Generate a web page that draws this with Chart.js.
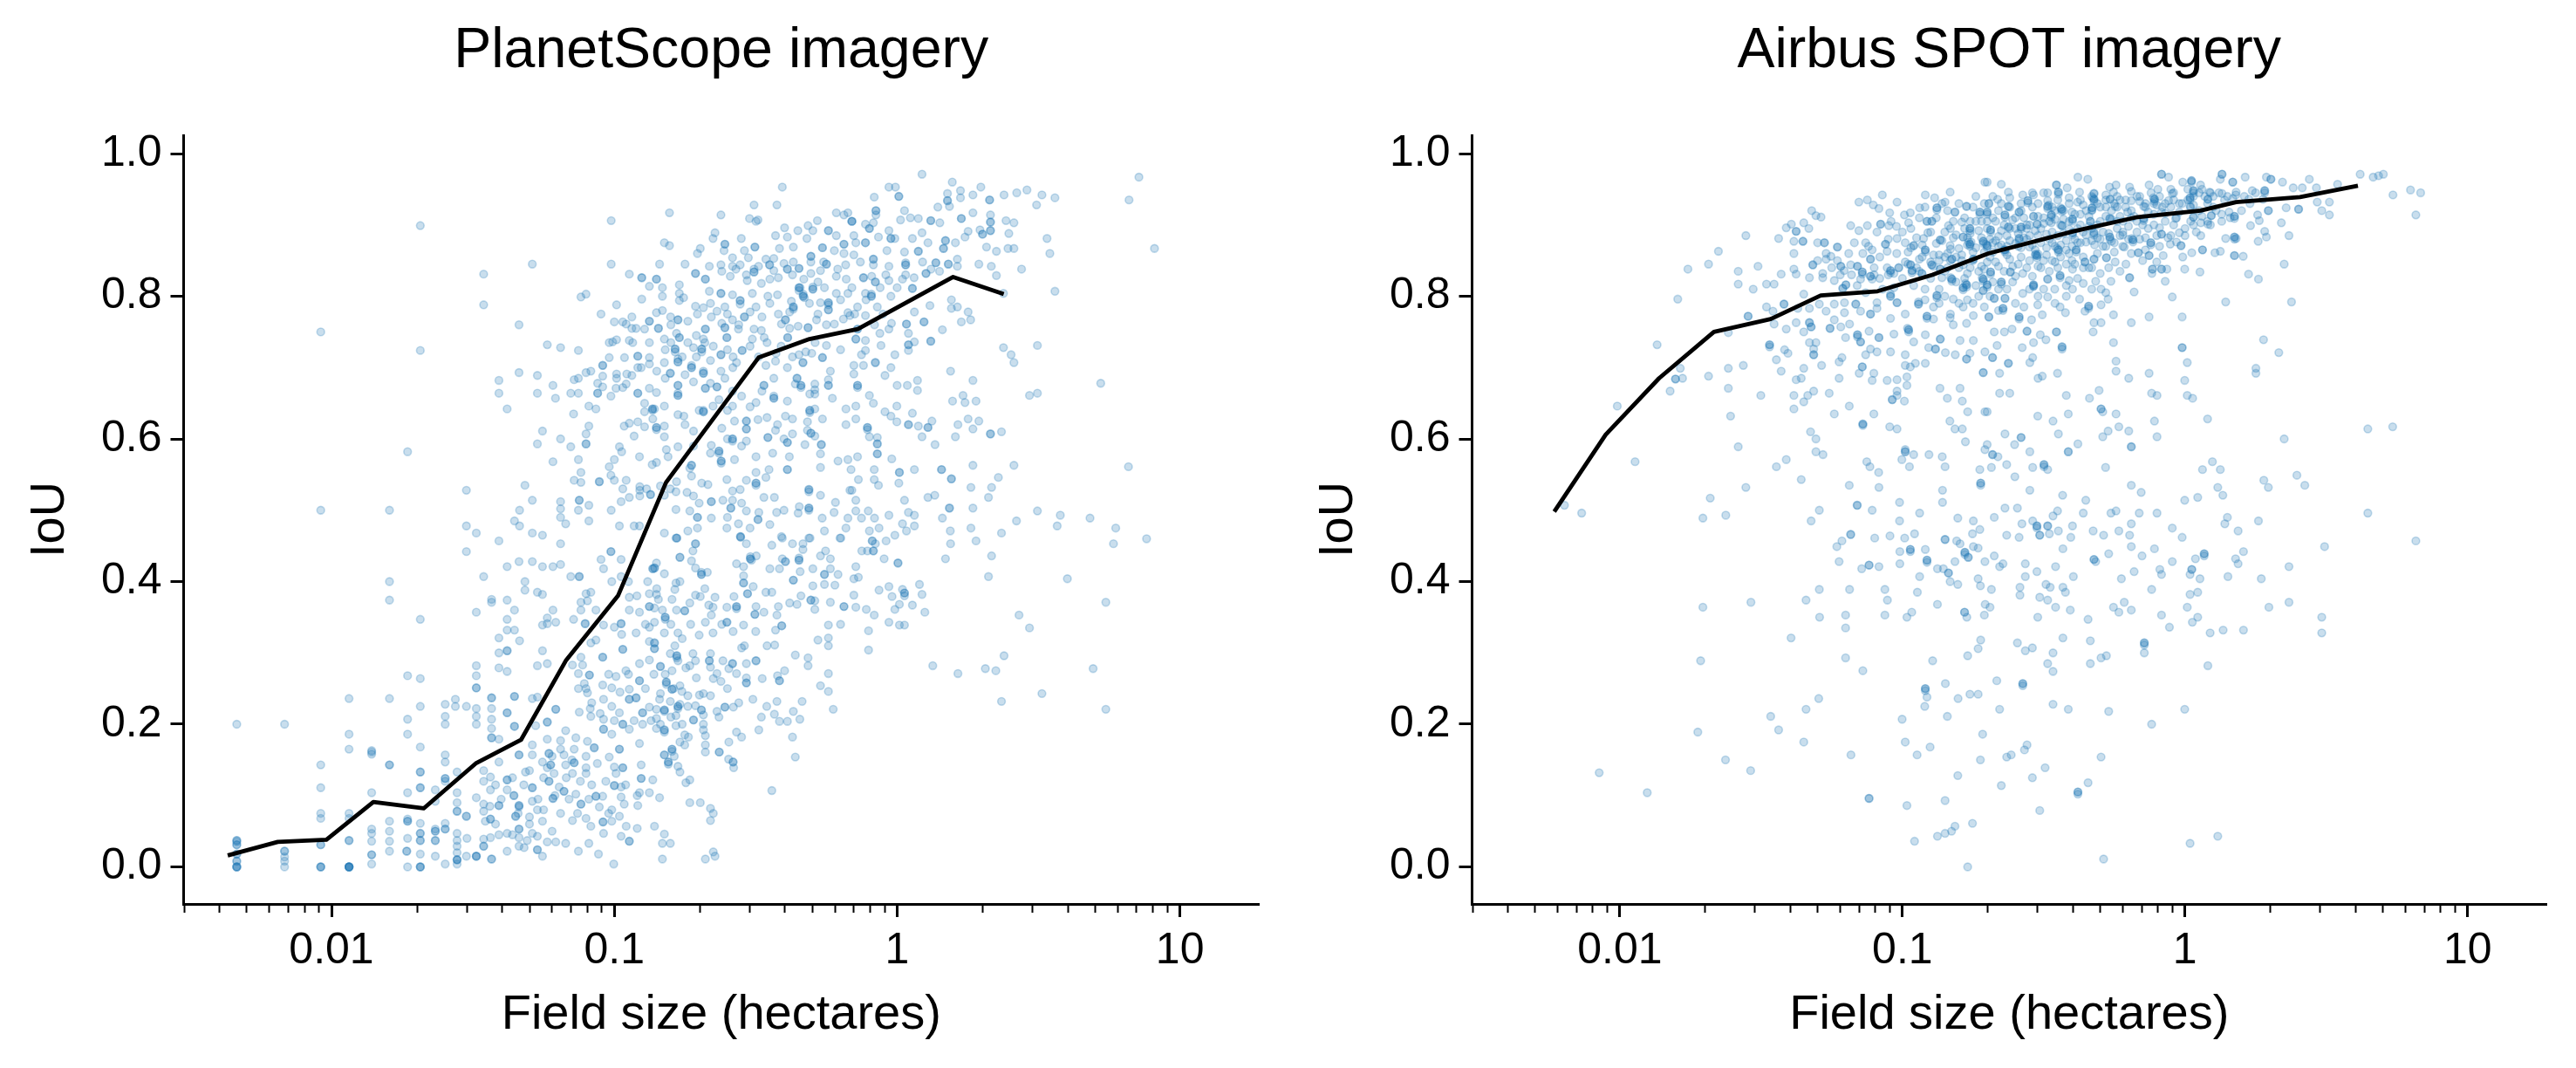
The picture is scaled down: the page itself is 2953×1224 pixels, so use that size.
<!DOCTYPE html>
<html>
<head>
<meta charset="utf-8">
<title>Field size vs IoU</title>
<script src="https://cdn.jsdelivr.net/npm/chart.js@4/dist/chart.umd.min.js"></script>
<style>
  html, body { margin: 0; padding: 0; background: #fff; }
  canvas { position: absolute; top: 0; }
  #planet { left: 0; }
  #airbus { left: 1477px; }
</style>
</head>
<body>
<canvas id="planet" width="1477" height="1224"></canvas>
<canvas id="airbus" width="1476" height="1224"></canvas>
<script>
const titles = ["PlanetScope imagery", "Airbus SPOT imagery"];
const xLabel = "Field size (hectares)";
const yLabel = "IoU";
const xTickValues = [0.01, 0.1, 1, 10];
const xTickLabels = ["0.01", "0.1", "1", "10"];
const xMinorTicks = [0.003, 0.004, 0.005, 0.006, 0.007, 0.008, 0.009, 0.02, 0.03, 0.04, 0.05, 0.06, 0.07, 0.08, 0.09, 0.2, 0.3, 0.4, 0.5, 0.6, 0.7, 0.8, 0.9, 2, 3, 4, 5, 6, 7, 8, 9];
const yTickValues = [0, 0.2, 0.4, 0.6, 0.8, 1];
const xRange = [0.003, 19];
const yRange = [-0.052, 1.0257];

// all points are [log10 hectares, IoU]
const planetLine = [[-2.367,.016],[-2.19,.035],[-2.018,.038],[-1.852,.091],[-1.674,.082],[-1.49,.145],[-1.33,.178],[-1.17,.29],[-.987,.38],[-.817,.539],[-.49,.714],[-.31,.74],[-.139,.754],[.198,.827],[.377,.803]];
const airbusLine = [[-2.232,.498],[-2.05,.606],[-1.861,.685],[-1.667,.75],[-1.466,.768],[-1.289,.801],[-1.088,.807],[-.894,.83],[-.696,.86],[-.395,.891],[-.168,.911],[.055,.92],[.181,.932],[.407,.939],[.612,.955]];

const planetPoints = [
[-1.686,.899],[-1.011,.906],[-1.29,.845],[-1.011,.845],[-1.462,.831],[-.947,.831],[-.903,.826],[-.903,.826],[-.876,.814],[-1.462,.788],[-1.118,.799],[-1.1,.803],[-.903,.796],[-.992,.788],[-1.047,.775],[-1.337,.76],[-2.038,.75],[-1.686,.724],[-1.237,.732],[-1.19,.728],[-1.127,.724],[-1,.764],[-.97,.764],[-.938,.771],[-.958,.761],[-.938,.755],[-.923,.755],[-.893,.754],[-.876,.765],[-.876,.765],
[-1.018,.735],[-1.006,.736],[-.992,.739],[-.947,.738],[-.935,.735],[-.876,.735],[-1.018,.714],[-.964,.714],[-.917,.716],[-.917,.716],[-.876,.714],[-1.041,.703],[-1.041,.703],[-.905,.7],[-.917,.7],[-.876,.705],[-1.337,.693],[-1.272,.689],[-1.408,.682],[-1.142,.683],[-1.127,.685],[-1.1,.693],[-1.083,.695],[-1.041,.688],[-1.059,.678],[-.992,.691],[-.992,.685],[-.956,.691],[-.938,.689],
[-1.217,.675],[-1.041,.673],[-1.408,.664],[-1.272,.664],[-1.154,.664],[-1.127,.664],[-1.059,.664],[-1.059,.664],[-1.012,.66],[-.994,.671],[-.97,.672],[-.958,.677],[-.917,.664],[-.917,.664],[-.876,.671],[-1.208,.657],[-1.379,.642],[-1.09,.646],[-1.065,.642],[-.893,.65],[-.893,.638],[-.858,.642],[-1.144,.635],[-.917,.624],[-.965,.618],[-.947,.622],[-.893,.617],[-1.09,.618],[-.864,.628],
[-1.254,.611],[-1.1,.607],[-.93,.604],[-1.19,.6],[-1.272,.593],[-1.154,.589],[-1.1,.593],[-1.1,.593],[-1.731,.582],[-.982,.589],[-.974,.582],[-1.127,.571],[-.911,.575],[-1,.571],[-1.217,.568],[-.866,.564],[-1.018,.561],[-1.118,.553],[-1.012,.549],[-1,.542],[-1.142,.542],[-1.118,.539],[-1.053,.54],[-1.053,.54],[-.958,.542],[-1.316,.535],[-1.523,.528],[-.97,.53],[-.91,.533],[-.91,.528],[-.886,.53],[-.872,.522],[-.872,.522],[-.947,.518],[-.91,.52],[-.976,.512],
[-1.124,.514],[-1.124,.514],[-1.29,.514],[-2.038,.5],[-1.795,.5],[-1.335,.5],[-1.19,.512],[-1.19,.502],[-1.19,.49],[-1.127,.5],[-1.09,.507],[-1.011,.5],[-1.353,.485],[-1.335,.478],[-1.523,.478],[-1.172,.481],[-1.09,.485],[-.982,.478],[-.93,.478],[-.911,.478],[-1.488,.468],[-1.29,.468],[-1.254,.465],[-1.408,.457],[-1.19,.453],
[-1.523,.442],[-1.012,.442],[-1.012,.442],[-1.047,.431],[-1.038,.418],[-.976,.431],[-1.379,.421],[-1.337,.428],[-1.29,.428],[-1.254,.421],[-1.217,.421],[-1.19,.424],[-1.462,.407],[-1.154,.407],[-1.124,.407],[-1.124,.407],[-1.795,.4],[-1.316,.4],[-1.316,.388],[-1.272,.385],[-1.254,.382],[-1.009,.4],[-.976,.407],[-.882,.4],[-.864,.418],[-.864,.418],[-.876,.383],
[-1.795,.374],[-1.434,.371],[-1.434,.375],[-1.379,.374],[-1.488,.357],[-1.353,.36],[-1.379,.347],[-1.686,.347],[-1.217,.36],[-1.237,.349],[-1.254,.339],[-1.237,.341],[-1.207,.343],[-1.144,.347],[-1.379,.332],[-1.353,.332],[-1.408,.321],[-1.335,.317],[-1.1,.383],[-1.083,.385],[-1.118,.371],[-1.095,.373],[-1.118,.36],[-1.065,.36],[-1.103,.341],[-1.103,.341],[-1.038,.339],[-1,.336],[-.976,.341],[-.976,.341],[-.974,.326],[-.947,.378],[-.947,.36],[-.911,.357],[-.876,.365],[-.876,.365],[-.923,.328],[-.876,.336],
[-1.408,.3],[-1.379,.303],[-1.379,.303],[-1.254,.303],[-.97,.305],[-.97,.305],[-.876,.316],[-1.065,.318],[-1.083,.314],[-1.041,.294],[-1.041,.294],[-1.118,.294],[-1.112,.283],[-1.148,.283],[-1.237,.285],[-1.272,.282],[-1.488,.282],[-1.488,.268],[-1.488,.251],[-1.488,.251],[-1.408,.279],[-1.379,.274],[-1.731,.268],[-1.686,.264],[-1.127,.271],[-1.088,.269],[-1.088,.269],[-1.106,.257],[-1.127,.25],[-1.095,.244],
[-1.041,.255],[-1.009,.251],[-.994,.267],[-.959,.275],[-.911,.285],[-.911,.261],[-.911,.261],[-.947,.249],[-.923,.237],[-.923,.237],[-.876,.29],[-1.938,.236],[-1.795,.236],[-1.686,.225],[-1.598,.228],[-1.562,.235],[-1.562,.225],[-1.523,.225],[-1.488,.222],[-1.434,.237],[-1.434,.237],[-1.434,.222],[-1.353,.239],[-1.353,.239],[-1.379,.216],[-1.379,.216],[-1.29,.236],[-1.272,.238],[-1.207,.221],[-1.207,.221],[-1.124,.217],[-1.085,.222],[-1.083,.211],[-1.038,.235],[-1.009,.225],[-.982,.216],[-.947,.235],[-.947,.235],[-.9,.216],[-.9,.216],[-.876,.224],
[-1.731,.207],[-1.598,.211],[-1.598,.2],[-1.488,.211],[-1.488,.2],[-1.434,.207],[-1.434,.194],[-2.335,.2],[-2.166,.2],[-1.353,.197],[-1.353,.197],[-1.278,.198],[-1.237,.203],[-1.237,.203],[-1.038,.207],[-.97,.2],[-.97,.2],[-1.038,.193],[-1.038,.193],[-.947,.193],[-.9,.2],[-.911,.173],[-1.009,.186],[-1.938,.186],[-1.731,.186],[-1.434,.181],[-1.434,.181],[-1.408,.179],[-1.172,.191],[-1.237,.179],[-1.19,.177],[-1.136,.181],[-1.095,.176],[-1.071,.167],[-1.071,.167],
[-1.686,.168],[-1.938,.165],[-1.858,.161],[-1.858,.163],[-1.858,.158],[-1.598,.157],[-1.598,.147],[-1.29,.171],[-1.231,.159],[-1.231,.159],[-1.337,.157],[-1.337,.157],[-1.29,.157],[-1.142,.165],[-1.178,.157],[-.982,.165],[-.982,.165],[-1.018,.154],[-2.038,.143],[-1.795,.143],[-1.795,.143],[-1.408,.147],[-1.254,.147],[-1.225,.143],[-1.225,.143],[-1.172,.143],[-1.142,.146],[-1.142,.146],[-1.1,.139],[-1.237,.139],[-.905,.143],[-.97,.139],[-.97,.139],
[-1.686,.133],[-1.686,.133],[-1.462,.135],[-1.314,.133],[-1.213,.131],[-1.148,.131],[-1.1,.131],[-.994,.131],[-1.556,.133],[-1.598,.124],[-1.598,.124],[-1.598,.12],[-1.438,.126],[-1.462,.12],[-1.379,.122],[-1.379,.122],[-1.231,.12],[-1.231,.12],[-.905,.124],[-.905,.124],[-.864,.122],[-2.038,.111],[-1.686,.111],[-1.686,.111],[-1.29,.111],[-1.29,.111],[-1.195,.112],[-1,.114],[-1,.114],[-.976,.112],
[-1.858,.104],[-1.731,.104],[-1.633,.108],[-1.556,.104],[-1.438,.108],[-1.379,.108],[-1.178,.106],[-1.178,.106],[-1.136,.102],[-.911,.104],[-.876,.104],[-1.488,.097],[-1.355,.1],[-1.355,.1],[-1.217,.096],[-1.217,.096],[-1.065,.099],[-1.065,.099],[-1.041,.099],[-.976,.098],[-.919,.1],[-1.633,.092],[-1.556,.09],[-1.408,.086],[-1.408,.086],[-1.29,.092],[-1.337,.086],[-1.337,.086],[-1.337,.084],[-1.118,.088],[-1.118,.088],[-.965,.088],[-1.053,.084],[-.917,.086],[-1.462,.088],
[-2.038,.075],[-1.938,.075],[-1.556,.078],[-1.556,.078],[-1.523,.071],[-1.523,.071],[-1.462,.078],[-1.349,.071],[-1.349,.071],[-1.19,.075],[-1.272,.08],[-1.009,.08],[-2.038,.068],[-1.938,.068],[-1.795,.064],[-1.731,.064],[-1.731,.064],[-1.731,.067],[-1.438,.067],[-1.438,.067],[-1.254,.064],[-1.148,.065],[-1.1,.068],[-1.04,.063],[-1.04,.063],[-.982,.071],[-1.009,.064],[-1.456,.064],
[-1.686,.061],[-1.598,.061],[-1.858,.053],[-1.795,.05],[-1.633,.05],[-1.633,.05],[-1.633,.053],[-1.598,.053],[-1.598,.053],[-1.337,.053],[-1.337,.053],[-1.083,.057],[-.958,.057],[-.919,.054],[-1.686,.047],[-1.686,.047],[-1.556,.047],[-1.858,.047],[-1.408,.045],[-1.379,.047],[-1.038,.047],[-.976,.043],[-1.521,.04],[-1.731,.04],[-1.438,.041],[-1.462,.039],[-1.29,.047],[-1.337,.041],[-1.308,.037],[-1.272,.043],
[-1.938,.037],[-1.938,.037],[-1.858,.036],[-1.795,.036],[-1.686,.037],[-1.686,.037],[-1.633,.037],[-1.633,.037],[-1.556,.037],[-.947,.036],[-.947,.036],[-2.038,.031],[-2.038,.031],[-2.335,.037],[-2.335,.037],[-2.335,.035],[-2.335,.031],[-2.335,.031],[-1.556,.029],[-1.462,.029],[-1.462,.029],[-1.337,.029],[-1.237,.035],[-1.207,.035],[-1.172,.033],[-1.09,.033],
[-2.166,.022],[-2.166,.022],[-1.734,.022],[-1.734,.022],[-1.379,.022],[-1.272,.024],[-1.272,.024],[-1.127,.022],[-1.319,.027],[-1.056,.018],[-1.556,.02],[-1.858,.017],[-1.858,.017],[-1.795,.022],[-1.686,.018],[-1.633,.015],[-1.523,.015],[-1.488,.015],[-1.488,.015],[-1.488,.015],[-1.254,.015],[-2.335,.018],[-2.335,.018],[-2.166,.014],
[-1.858,.004],[-1.598,.004],[-1.556,.01],[-1.556,.01],[-1.556,.01],[-1.556,.004],[-1.434,.011],[-1.434,.011],[-2.166,.008],[-1.002,.004],[-2.335,.008],[-2.335,.008],[-2.335,0],[-2.335,0],[-2.335,0],[-2.335,0],[-2.166,0],[-2.038,0],[-2.038,0],[-2.038,0],[-1.938,0],[-1.938,0],[-1.938,0],[-1.938,0],[-1.938,0],[-1.938,0],[-1.731,0],[-1.686,0],[-1.686,0],[-1.686,0],
[.088,.971],[.855,.967],[.82,.935],[.195,.96],[.296,.953],[-.029,.953],[-.006,.953],[-.406,.953],[-.081,.939],[.006,.94],[.006,.94],[.178,.944],[.178,.934],[.178,.934],[.224,.948],[.224,.938],[.268,.942],[.327,.935],[.327,.935],[.378,.942],[.423,.945],[.459,.949],[.512,.942],[.558,.938],[.493,.928],[.144,.925],[.185,.926],[-.506,.928],[-.425,.928],
[-.805,.917],[-.623,.914],[.026,.92],[-.215,.917],[-.188,.914],[-.174,.917],[-.075,.92],[-.075,.92],[-.075,.914],[-.522,.909],[-.499,.905],[-.492,.907],[-.16,.905],[-.16,.905],[-.16,.905],[.012,.907],[.047,.91],[.075,.909],[.119,.906],[.119,.906],[.151,.903],[.227,.909],[.227,.909],[.268,.917],[.33,.914],[.33,.904],[.33,.904],[.33,.892],[.33,.892],[.293,.893],[.302,.887],[.302,.887],[.251,.891],[.24,.883],[.385,.906],[.413,.903],
[-.282,.906],[-.398,.896],[-.388,.883],[-.43,.885],[-.351,.892],[-.315,.899],[-.298,.892],[-.243,.892],[-.243,.892],[-.112,.901],[-.098,.895],[-.098,.895],[-.084,.903],[-.029,.892],[-.066,.883],[-.644,.889],[-.651,.881],[-.551,.881],[-.319,.881],[-.215,.885],[-.153,.885],[-.022,.881],[-.022,.881],[.054,.881],[.088,.889],[.109,.875],[.171,.878],[.171,.878],[.206,.875],
[.395,.888],[.53,.881],[.54,.86],[.91,.867],[.392,.867],[.413,.867],[.351,.863],[.316,.869],[-.823,.875],[-.805,.871],[-.696,.867],[-.706,.86],[-.609,.873],[-.609,.873],[-.612,.864],[-.503,.869],[-.503,.869],[-.416,.867],[-.367,.869],[-.264,.868],[-.264,.868],[-.188,.873],[-.188,.873],[-.146,.875],[-.112,.875],[-.112,.875],[-.008,.881],[.164,.867],[.164,.867],[.075,.863],[.075,.863],
[-.582,.854],[-.54,.864],[-.526,.854],[-.464,.852],[-.436,.853],[-.305,.856],[-.305,.856],[-.305,.848],[-.367,.848],[-.222,.864],[-.188,.86],[-.153,.858],[-.084,.852],[-.084,.852],[-.036,.864],[.026,.862],[-.84,.845],[-.75,.845],[-.664,.842],[-.623,.844],[-.582,.842],[-.555,.844],[-.506,.834],[-.506,.834],[-.506,.838],[-.451,.844],[-.451,.844],[-.388,.838],[-.388,.838],[-.347,.839],[-.347,.839],[-.25,.845],[-.25,.845],[-.182,.844],[-.084,.844],[-.029,.842],[.03,.844],[.03,.844],[.03,.847],[.137,.847],[.137,.847],[.181,.845],[.181,.845],[.213,.852],[.213,.842],[.289,.845],[.333,.842],[.44,.838],[.351,.829],
[-.851,.824],[-.851,.824],[-.713,.832],[-.713,.832],[-.678,.824],[-.678,.824],[-.533,.83],[-.436,.836],[-.45,.824],[-.305,.832],[-.271,.836],[-.215,.828],[-.119,.826],[-.119,.826],[-.077,.82],[-.077,.82],[-.029,.822],[.019,.824],[.102,.832],[.102,.832],
[-.83,.812],[-.77,.816],[-.83,.8],[-.77,.804],[-.664,.807],[-.623,.804],[-.623,.804],[-.582,.802],[-.555,.794],[-.555,.794],[-.512,.804],[-.457,.8],[-.423,.802],[-.347,.812],[-.347,.812],[-.347,.808],[-.343,.812],[-.298,.81],[-.298,.81],[-.298,.813],[-.332,.8],[-.332,.8],[-.332,.803],[-.328,.798],[-.257,.812],[-.215,.804],[-.174,.804],[-.112,.804],[-.091,.8],[-.091,.8],[-.091,.803],[-.022,.8],[.054,.811],[.054,.811],[.376,.804],
[.558,.807],[-.77,.794],[-.755,.798],[-.713,.786],[-.685,.784],[-.637,.779],[-.609,.785],[-.499,.785],[-.555,.789],[-.367,.785],[-.367,.785],[-.367,.782],[-.374,.793],[-.243,.791],[-.243,.791],[-.243,.788],[-.271,.791],[-.243,.781],[-.243,.781],[-.174,.777],[-.14,.785],[-.07,.785],[.116,.787],[.192,.795],[.192,.783],[.213,.785],[.251,.778],[.26,.767],[.227,.764],
[-.851,.777],[-.801,.771],[-.775,.767],[-.775,.767],[-.706,.775],[-.657,.771],[-.582,.767],[-.54,.771],[-.54,.771],[-.478,.771],[-.395,.767],[-.395,.767],[-.285,.767],[-.222,.761],[-.167,.773],[-.112,.773],[.061,.778],[.033,.761],[.033,.761],[.095,.764],[.095,.764],
[-.844,.755],[-.844,.755],[-.678,.754],[-.678,.754],[-.609,.756],[-.609,.756],[-.561,.754],[-.506,.754],[-.409,.761],[-.38,.755],[-.315,.756],[-.315,.756],[-.14,.754],[-.14,.754],[-.029,.754],[.04,.748],[.16,.753],[-.061,.748],
[-.823,.74],[-.77,.742],[-.77,.742],[-.685,.74],[-.602,.742],[-.602,.742],[-.512,.74],[-.47,.742],[-.387,.742],[-.387,.742],[-.146,.74],[-.146,.74],[-.112,.738],[-.057,.731],[.04,.732],[.04,.732],[.119,.737],[.119,.737],[.061,.736],[.376,.728],[.496,.731],
[-.785,.726],[-.785,.726],[-.785,.722],[-.72,.728],[-.691,.726],[-.691,.726],[-.691,.722],[-.623,.718],[-.623,.718],[-.548,.724],[-.548,.724],[-.428,.72],[-.323,.722],[-.302,.72],[-.25,.731],[-.264,.714],[-.264,.714],[-.112,.724],[-.126,.718],[-.008,.718],[.04,.724],[.403,.718],[.413,.707],
[-.823,.707],[-.775,.708],[-.775,.708],[-.775,.712],[-.727,.7],[-.727,.7],[-.727,.703],[-.685,.692],[-.685,.692],[-.685,.695],[-.802,.692],[-.802,.692],[-.581,.7],[-.623,.695],[-.568,.707],[-.464,.703],[-.43,.709],[-.388,.7],[-.333,.707],[-.333,.707],[-.347,.718],[-.236,.695],[-.153,.703],[-.119,.703],[-.077,.707],[-.077,.707],[-.022,.7],[-.043,.689],[-.153,.691],[.189,.695],[.268,.682],
[-.609,.685],[-.436,.685],[-.354,.685],[-.354,.685],[-.36,.677],[-.471,.675],[-.471,.675],[-.34,.675],[-.34,.675],[-.34,.672],[-.291,.677],[-.291,.669],[-.243,.683],[-.243,.675],[-.243,.675],[-.14,.675],[-.14,.675],[-.14,.672],[0,.675],[.036,.675],[.072,.682],[.072,.668],[.72,.678],
[-.775,.675],[-.775,.675],[-.678,.671],[-.678,.671],[-.637,.673],[-.637,.673],[-.582,.667],[-.775,.661],[-.775,.661],[-.775,.664],[-.851,.665],[-.478,.667],[-.436,.657],[-.436,.657],[-.436,.66],[-.309,.663],[-.291,.663],[-.229,.657],[-.098,.661],[.233,.661],[.496,.664],[.468,.661],
[-.865,.642],[-.865,.642],[-.865,.64],[-.823,.646],[-.685,.638],[-.685,.638],[-.685,.64],[-.651,.646],[-.582,.646],[-.499,.651],[-.388,.653],[-.309,.64],[-.309,.64],[-.309,.637],[-.291,.642],[-.181,.642],[-.146,.646],[-.084,.65],[-.001,.646],[.054,.636],[.196,.653],[.24,.651],[.279,.653],
[-.775,.634],[-.754,.632],[-.575,.625],[-.533,.625],[-.533,.625],[-.492,.627],[-.395,.632],[-.37,.628],[-.264,.628],[-.146,.628],[-.043,.638],[-.022,.632],[-.001,.624],[.123,.625],[.251,.628],[.289,.625],[.04,.62],[.04,.62],[.075,.618],[.109,.616],[.109,.616],
[-.851,.616],[-.851,.616],[-.851,.613],[-.823,.618],[-.823,.603],[-.72,.611],[-.533,.614],[-.533,.614],[-.423,.62],[-.43,.612],[-.317,.624],[-.317,.612],[-.181,.62],[-.105,.616],[-.105,.616],[-.105,.613],[.215,.62],[.268,.614],[.088,.603],[.206,.603],[.33,.607],[.33,.607],[.369,.61],
[-.457,.602],[-.457,.602],[-.582,.6],[-.582,.6],[-.582,.597],[-.533,.597],[-.388,.595],[-.388,.595],[-.37,.607],[-.305,.608],[-.305,.608],[-.291,.604],[-.268,.592],[-.268,.592],[-.098,.603],[-.07,.602],[-.07,.593],[-.07,.593],[-.326,.592],[.134,.592],
[-.816,.585],[-.775,.589],[-.657,.591],[-.63,.583],[-.63,.583],[-.63,.58],[-.622,.569],[-.622,.569],[-.622,.566],[-.727,.563],[-.727,.563],[-.575,.571],[-.499,.575],[-.381,.575],[-.271,.579],[-.14,.575],[-.174,.571],[-.209,.569],[-.07,.579],[-.07,.579],[-.019,.572],[-.851,.567],[-.81,.575],
[.268,.563],[.413,.563],[.818,.561],[-.388,.557],[-.388,.557],[-.499,.553],[-.453,.557],[-.271,.56],[-.163,.557],[-.081,.557],[.008,.553],[.008,.553],[.061,.557],[.157,.557],[.157,.557],[.192,.544],[.192,.544],[.358,.546],
[-.727,.548],[-.733,.559],[-.602,.543],[-.533,.542],[-.499,.538],[-.499,.538],[-.499,.535],[-.464,.546],[-.137,.543],[-.081,.543],[.006,.538],[-.066,.535],[-.669,.536],[-.691,.538],[-.837,.534],[-.802,.53],[.261,.532],[.334,.532],[-.312,.529],[-.312,.529],[-.312,.526],[-.16,.528],[-.582,.527],[-.555,.529],[-.782,.526],[-.743,.525],
[-.823,.521],[-.657,.512],[-.657,.512],[-.616,.514],[-.582,.514],[-.471,.518],[-.434,.518],[-.271,.521],[-.167,.528],[-.146,.514],[-.218,.511],[.026,.514],[.109,.518],[.133,.521],[.323,.518],
[-.782,.501],[-.733,.499],[-.706,.49],[-.706,.49],[-.657,.489],[-.588,.503],[-.588,.503],[-.533,.499],[-.489,.497],[-.426,.497],[-.346,.505],[-.312,.503],[-.312,.503],[-.312,.5],[-.35,.496],[-.223,.497],[-.265,.489],[-.146,.499],[-.102,.499],[-.174,.489],[-.126,.489],[-.08,.489],[-.029,.493],[.04,.497],[.061,.493],[.019,.481],[.061,.478],[.185,.503],[.185,.503],[.268,.503],[.496,.499],[.577,.493],[.16,.489],[.422,.485],[.682,.489],[.566,.478],[.773,.475],[.882,.46],[.369,.468],[.261,.475],[.188,.471],
[-.561,.481],[-.602,.475],[-.706,.475],[-.74,.471],[-.823,.468],[-.779,.461],[-.779,.461],[-.492,.487],[-.492,.487],[-.409,.463],[-.312,.461],[-.257,.471],[-.181,.475],[-.064,.475],[-.098,.471],[-.008,.465],[.033,.471],[-.202,.461],[-.554,.463],[-.554,.463],
[-.782,.461],[-.713,.453],[-.713,.453],[-.553,.462],[-.533,.453],[-.443,.451],[-.406,.461],[-.37,.453],[-.333,.453],[-.333,.445],[-.308,.461],[-.199,.461],[-.088,.457],[-.088,.457],[-.077,.453],[-.039,.457],[.189,.453],[.279,.457],[.765,.453],
[-.722,.443],[-.768,.434],[-.768,.434],[-.727,.429],[-.713,.419],[-.851,.426],[-.858,.419],[-.858,.419],[-.823,.411],[-.692,.41],[-.692,.41],[-.692,.413],[-.671,.413],[-.568,.425],[-.543,.421],[-.519,.432],[-.519,.432],[-.519,.435],[-.515,.43],[-.498,.436],[-.45,.418],[-.416,.418],[-.406,.432],[-.395,.428],[-.395,.428],[-.347,.43],[-.347,.43],[-.347,.433],[-.343,.414],[-.298,.418],[-.271,.436],[-.253,.443],[-.236,.432],[-.236,.418],[-.209,.41],[-.257,.41],[-.257,.41],[-.146,.421],[-.125,.443],[-.105,.443],[-.084,.443],[-.084,.443],[-.046,.432],[.003,.426],[.003,.426],[.171,.432],[.334,.436],[.323,.407],[.602,.404],
[-.782,.398],[-.768,.4],[-.786,.389],[-.851,.382],[-.796,.375],[-.844,.375],[-.858,.363],[-.713,.381],[-.696,.379],[-.644,.378],[-.733,.37],[-.751,.359],[-.751,.359],[-.666,.367],[-.651,.364],[-.657,.353],[-.678,.343],[-.602,.364],[-.577,.379],[-.568,.365],[-.568,.365],[-.568,.362],[-.543,.408],[-.543,.398],[-.543,.398],[-.529,.383],[-.529,.383],[-.509,.393],[-.464,.385],[-.443,.385],[-.499,.365],[-.503,.354],[-.503,.354],[-.471,.357],[-.425,.353],[-.602,.343],[-.602,.343],[-.543,.339],[-.408,.338],[-.408,.338],[-.43,.332],[-.82,.35],[-.82,.35],[-.82,.347],[-.858,.343],[-.823,.328],[-.775,.328],[-.651,.328],
[-.367,.402],[-.367,.402],[-.298,.394],[-.305,.374],[-.305,.374],[-.291,.373],[-.291,.361],[-.354,.368],[-.257,.396],[-.236,.371],[-.188,.365],[-.188,.365],[-.146,.364],[-.153,.381],[-.153,.404],[-.137,.406],[-.109,.361],[-.081,.353],[-.064,.388],[-.029,.393],[-.018,.379],[.019,.389],[.026,.384],[.026,.384],[.026,.38],[.079,.396],[.088,.382],[.054,.367],[.008,.368],[-.008,.361],[.098,.357],[-.029,.343],[.008,.339],[.026,.339],[-.243,.339],[-.101,.331],[.431,.353],[.468,.335],[.738,.371],
[-.858,.314],[-.858,.314],[-.858,.306],[-.858,.306],[-.786,.31],[-.802,.299],[-.779,.296],[-.779,.296],[-.779,.293],[-.722,.299],[-.713,.289],[-.66,.299],[-.664,.289],[-.664,.289],[-.66,.28],[-.747,.279],[-.733,.282],[-.837,.281],[-.837,.281],[-.796,.275],[-.775,.289],[-.616,.289],[-.582,.285],[-.582,.285],[-.595,.278],[-.568,.271],[-.533,.285],[-.499,.289],[-.499,.289],[-.55,.307],[-.433,.311],[-.36,.297],[-.315,.293],[-.315,.282],[-.398,.275],[-.28,.318],[-.243,.321],[-.243,.31],[-.101,.304],[.378,.296],[.126,.282],[.215,.271],[.312,.278],[.349,.275],[.693,.278],[-.243,.271],[-.423,.268],[-.416,.261],[-.416,.261],[-.477,.264],[-.533,.265],[-.533,.258],[-.533,.258],[-.65,.264],[-.623,.26],[-.637,.271],
[-.816,.259],[-.816,.259],[-.816,.256],[-.768,.254],[-.796,.249],[-.796,.249],[-.761,.246],[-.837,.243],[-.685,.243],[-.699,.241],[-.271,.254],[-.243,.246],[-.425,.232],[-.336,.232],[-.802,.232],[-.768,.228],[.369,.232],[.512,.243],
[-.851,.221],[-.823,.22],[-.823,.22],[-.823,.218],[-.775,.225],[-.775,.225],[-.775,.222],[-.74,.225],[-.713,.226],[-.692,.22],[-.692,.22],[-.637,.218],[-.609,.224],[-.609,.224],[-.579,.224],[-.461,.225],[-.367,.218],[-.226,.221],[.738,.221],[-.782,.212],[-.685,.213],[-.851,.208],[-.72,.206],[-.72,.206],[-.685,.2],[-.434,.214],[-.416,.204],[-.388,.204],[-.344,.207],[-.837,.2],[-.782,.198],[-.823,.192],[-.823,.192],[-.823,.189],[-.851,.194],[-.685,.192],[-.678,.184],[-.568,.189],[-.489,.192],[-.55,.182],[-.37,.182],[-.738,.182],[-.751,.185],
[-.768,.175],[-.751,.171],[-.796,.165],[-.796,.165],[-.796,.162],[-.823,.157],[-.823,.157],[-.788,.155],[-.809,.147],[-.809,.147],[-.809,.144],[-.678,.171],[-.678,.161],[-.595,.175],[-.629,.161],[-.629,.161],[-.596,.151],[-.58,.147],[-.58,.147],[-.578,.139],[-.775,.141],[-.768,.133],[-.747,.118],[-.733,.122],[-.36,.154],[-.443,.107],[-.84,.097],[-.733,.09],[-.696,.09],[-.66,.082],[-.65,.075],[-.66,.065],[-.858,.057],[-.823,.046],[-.83,.033],[-.802,.033],[-.65,.021],[-.644,.015],[-.83,.011],[-.678,.011]
];

// the crowded parts of the left panel, dots too merged to read one by one
const planetDense = [
[-.62,.835],[-.59,.828],[-.57,.838],[-.53,.822],[-.49,.842],[-.48,.818],[-.42,.826],[-.4,.846],[-.37,.83],[-.33,.824],[-.28,.82],[-.26,.848],[-.21,.838],[-.18,.824],[-.16,.812],[-.13,.848],[-.09,.828],[-.06,.812],[-.04,.83],[0,.812],[.03,.83],[.06,.826],[.09,.848],[.12,.838],[.15,.835],
[-.66,.79],[-.62,.762],[-.6,.775],[-.56,.76],[-.52,.778],[-.48,.752],[-.45,.79],[-.42,.775],[-.38,.778],[-.35,.758],[-.31,.79],[-.28,.775],[-.25,.76],[-.2,.795],[-.19,.768],[-.15,.775],[-.11,.795],[-.08,.76],[-.05,.775],[-.02,.762],[-.83,.78],[-.8,.76],[-.78,.748],[-.74,.765],[-.71,.745],
[-.82,.725],[-.8,.735],[-.76,.715],[-.74,.735],[-.71,.715],[-.68,.735],[-.66,.71],[-.65,.73],[-.6,.725],[-.58,.715],[-.52,.73],[-.49,.715],[-.46,.735],[-.41,.73],[-.37,.715],[-.29,.735],[-.2,.725],[-.85,.695],[-.82,.685],[-.75,.69],[-.72,.68],[-.66,.678],[-.63,.655],[-.6,.64],[-.55,.66],[-.52,.645],
[-1.22,.155],[-1.19,.165],[-1.17,.125],[-1.15,.15],[-1.12,.12],[-1.1,.155],[-1.08,.115],[-1.06,.145],[-1.03,.12],[-1.32,.115],[-1.3,.135],[-1.27,.095],[-1.25,.125],[-1.21,.1],[-1.16,.095],[-1.13,.075],[-1.09,.095],[-1.02,.075],[-1,.14],[-.96,.115],[-1.42,.115],[-1.4,.095],[-1.36,.125],[-1.34,.075],[-1.3,.07],[-1.25,.08],[-1.44,.085],[-1.42,.06],[-1.36,.045],[-1.3,.06],[-1.22,.05],
[-1.1,.25],[-1.08,.23],[-1.05,.215],[-1.02,.27],[-1,.205],[-.98,.245],[-.95,.27],[-.93,.205],[-.89,.25],[-.87,.205],[-.86,.27],[-.84,.235],[-.82,.27],[-.8,.21],[-.79,.25],[-.76,.2],[-.74,.24],[-.71,.265],[-.66,.24],[-.63,.21],[-.6,.25],[-.56,.23],[-.51,.235],[-.48,.21],
[-.95,.4],[-.92,.38],[-.89,.34],[-.85,.39],[-.83,.36],[-.8,.34],[-.78,.36],[-.76,.32],[-.73,.34],[-.7,.325],[-.68,.39],[-.62,.34],[-.58,.33],[-.54,.31],[-.5,.33],[-.46,.31],[-.42,.365],[-.38,.37],[-.34,.38],[-.22,.395],[-.2,.34],
[-.75,.62],[-.72,.59],[-.7,.64],[-.66,.58],[-.62,.615],[-.6,.6],[-.55,.59],[-.46,.63],[-.44,.58],[-.4,.6],[-.78,.54],[-.72,.52],[-.7,.51],[-.6,.49],[-.55,.51],[-.52,.475],[-.45,.48],[-.4,.5]
];

const airbusPoints = [
[-2.196,.507],[-2.135,.496],[-1.706,.489],[-1.625,.493],[-1.68,.517],[-1.554,.532],[-1.946,.568],[-1.581,.589],[-2.009,.646],[-1.608,.632],[-1.501,.661],[-1.616,.671],[-1.822,.667],[-1.803,.684],[-1.803,.684],[-1.778,.685],[-1.786,.699],[-1.686,.688],[-1.616,.699],[-1.563,.703],[-1.868,.732],[-1.795,.796],[-1.759,.838],[-1.686,.845],[-1.651,.863],[-1.554,.885],[-1.581,.835],[-1.581,.817],[-1.511,.842],[-1.528,.81],[-1.481,.817],[-1.454,.817],[-1.429,.831],[-1.438,.881],[-1.411,.896],[-1.393,.901],[-1.376,.891],[-1.376,.891],[-1.349,.903],[-1.331,.895],[-1.384,.877],[-1.352,.877],[-1.352,.877],[-1.384,.86],[-1.321,.92],[-1.306,.913],[-1.288,.911],[-1.3,.875],[-1.276,.875],[-1.276,.875],[-1.23,.869],[-1.23,.869],[-1.253,.856],[-1.23,.85],[-1.384,.838],[-1.376,.831],[-1.317,.844],[-1.317,.844],[-1.329,.826],[-1.282,.832],[-1.27,.852],[-1.218,.842],[-1.218,.842],[-1.282,.826],
[-1.183,.899],[-1.154,.892],[-1.124,.899],[-1.077,.901],[-1.077,.901],[-1.048,.899],[-1.021,.898],[-1.154,.932],[-1.124,.935],[-1.103,.928],[-1.083,.923],[-1.071,.942],[-1.019,.932],[-1.045,.917],[-.919,.942],[-.886,.938],[-.831,.946],[-.849,.932],[-.939,.924],[-.972,.917],[-.993,.914],[-.878,.924],[-.878,.924],[-.878,.921],[-.814,.918],[-.814,.918],[-.773,.926],[-.773,.926],[-.726,.918],[-.726,.918],[-.726,.915],[-.978,.903],[-.913,.905],[-.913,.905],[-.896,.905],[-.896,.905],[-.837,.899],[-.708,.96],
[-1.13,.875],[-1.107,.865],[-1.113,.852],[-1.113,.852],[-1.06,.873],[-1.06,.873],[-1.054,.863],[-1.019,.881],[-.96,.871],[-.96,.871],[-.919,.865],[-.919,.865],[-.919,.862],[-.925,.881],[-.866,.879],[-.866,.879],[-.831,.871],[-.761,.895],[-.761,.895],[-.761,.892],[-.761,.873],[-.761,.873],[-.761,.87],[-.757,.876],[-.765,.876],[-.714,.877],[-.714,.877],[-.714,.874],[-.785,.883],[-.785,.883],
[-1.206,.836],[-1.183,.844],[-1.159,.842],[-1.159,.842],[-1.142,.834],[-1.142,.834],[-1.142,.831],[-1.113,.828],[-1.113,.828],[-1.2,.816],[-1.2,.816],[-1.148,.824],[-1.107,.824],[-1.241,.822],[-1.211,.811],[-1.211,.811],[-1.042,.836],[-1.042,.836],[-1.042,.833],[-1.013,.84],[-1.013,.84],[-.971,.844],[-.971,.844],[-1.054,.84],[-1.03,.832],[-.966,.836],[-.966,.836],[-.966,.833],[-.931,.832],[-.931,.832],[-.896,.844],[-.896,.844],[-.866,.838],[-.866,.838],[-.825,.852],[-.825,.852],[-.825,.824],[-.825,.824],[-.825,.821],[-.829,.826],[-.785,.844],[-.773,.816],[-.773,.816],[-.773,.813],[-.777,.818],[-.714,.824],[-.714,.824],[-.714,.821],[-.718,.826],[-.72,.842],[-.749,.852],[-.749,.852],[-.785,.812],[-.785,.812],[-.785,.809],[-.714,.808],[-.714,.808],
[-1.349,.803],[-1.481,.785],[-1.419,.789],[-1.419,.789],[-1.458,.779],[-1.546,.772],[-1.546,.772],[-1.454,.761],[-1.411,.754],[-1.376,.763],[-1.329,.763],[-1.329,.763],[-1.37,.783],[-1.329,.783],[-1.616,.749],[-1.349,.75],[-1.323,.757],[-1.323,.757],[-1.256,.755],[-1.256,.755],[-1.241,.789],[-1.205,.791],[-1.205,.777],[-1.294,.789],[-1.27,.779],[-1.241,.767],[-1.187,.761],[-1.218,.757],[-1.165,.789],[-1.165,.789],[-1.148,.779],[-1.113,.775],[-1.113,.775],[-1.09,.791],[-1.09,.783],[-1.042,.769],[-1.042,.8],[-1.042,.8],[-1.042,.803],[-1.019,.791],[-1.019,.791],[-.99,.775],[-.943,.789],[-.943,.789],[-.943,.792],[-.89,.785],[-.878,.801],[-.878,.801],[-.878,.798],[-.913,.772],[-.913,.772],[-.913,.769],[-.89,.768],[-.831,.77],[-.785,.785],[-.749,.773],[-.82,.796],[-.773,.762],[-.82,.76],
[-1.47,.732],[-1.47,.732],[-1.47,.729],[-1.417,.725],[-1.405,.72],[-1.329,.735],[-1.306,.735],[-1.314,.726],[-1.314,.718],[-1.314,.718],[-1.201,.742],[-1.159,.746],[-1.159,.746],[-1.159,.743],[-1.148,.736],[-1.148,.736],[-1.118,.751],[-1.083,.742],[-1.083,.742],[-1.113,.726],[-1.09,.722],[-1.13,.718],[-1.042,.722],[-.99,.718],[-.978,.753],[-.978,.753],[-.978,.75],[-.982,.755],[-.96,.736],[-1.03,.747],[-.919,.746],[-.866,.74],[-.866,.74],[-.907,.728],[-.883,.726],[-.883,.726],[-.848,.721],[-.813,.718],[-.796,.738],[-.749,.738],[-.773,.712],[-.773,.712],[-.761,.72],[-.708,.722],
[-1.446,.711],[-1.429,.695],[-1.349,.699],[-1.286,.703],[-1.224,.708],[-1.214,.714],[-1.142,.701],[-1.142,.701],[-1.101,.692],[-1.153,.692],[-.99,.703],[-.972,.701],[-.954,.706],[-.919,.706],[-.714,.693],[-.714,.693],
[-1.376,.683],[-1.358,.685],[-1.224,.685],[-1.107,.682],[-1.054,.682],[-1.019,.683],[-.984,.687],[-.984,.675],[-.867,.671],[-.796,.671],[-1.314,.667],[-1.335,.661],[-1.349,.652],[-1.384,.661],[-1.384,.642],[-1.259,.664],[-1.188,.646],[-1.241,.635],[-1.101,.635],[-1.019,.667],[-1.019,.661],[-1.036,.655],[-1.036,.655],[-.993,.653],[-.841,.657],[-.788,.653],[-.769,.638],[-.708,.638],
[-1.325,.61],[-1.306,.6],[-1.306,.582],[-1.281,.578],[-1.14,.621],[-1.14,.621],[-1.14,.619],[-1.045,.617],[-1.019,.614],[-.832,.625],[-.814,.614],[-.788,.614],[-.777,.596],[-.99,.582],[-.99,.582],[-.99,.585],[-.96,.578],[-.906,.578],[-.859,.575],[-1.126,.568],[-1.115,.561],[-1.084,.553],[-1.411,.571],[-1.446,.561],[-1.358,.543],[-1.188,.535],[-1.083,.532],[-1.002,.571],[-.975,.561],[-.849,.561],[-.726,.557],[-.723,.538],[-.723,.538],[-.723,.535],[-.708,.585],[-.858,.528],[-.858,.511],[-1.01,.511],[-1.16,.507],[-1.16,.507],[-1.107,.5],[-1.294,.5],[-1.323,.485],[-1.01,.485],[-.939,.496],[-.804,.489],[-.749,.485],
[-1.232,.449],[-1.214,.457],[-1.183,.466],[-1.183,.466],[-1.098,.461],[-1.044,.464],[-.992,.461],[-.957,.467],[-.849,.459],[-.849,.459],[-.808,.457],[-.796,.453],[-.752,.467],[-.726,.473],[-.749,.449],[-1.009,.442],[-.972,.445],[-.972,.445],[-.972,.442],[-.919,.445],[-.779,.441],[-.779,.441],[-.779,.438],[-.767,.434],[-.767,.434],[-.732,.447],[-1.224,.428],[-1.118,.423],[-1.118,.423],[-1.144,.418],[-1.083,.421],[-1.009,.425],[-.913,.43],[-.913,.43],[-.913,.427],[-.876,.418],[-.855,.418],[-.837,.412],[-.837,.412],[-.814,.428],[-.708,.428],[-.939,.407],[-.831,.4],[-.804,.396],[-.732,.404],[-.724,.394],
[-1.294,.389],[-1.187,.389],[-1.062,.389],[-.947,.385],[-1.341,.374],[-1.536,.371],[-1.706,.364],[-1.053,.374],[-.876,.368],[-1.201,.353],[-1.293,.35],[-1.062,.353],[-.984,.35],[-.967,.357],[-.78,.357],[-.78,.357],[-.772,.35],[-.707,.368],[-.71,.353],[-1.201,.335],[-1.394,.321],[-.723,.318],[-.732,.306],[-.769,.296],[-1.201,.293],[-1.714,.289],[-1.14,.275],[-.893,.289],[-.848,.257],[-.919,.25],[-.919,.25],[-.919,.247],[-.913,.238],[-.921,.225],[-.761,.242],[-.732,.242],[-.803,.236],[-1.296,.236],[-1.341,.221],[-1.466,.211],[-.841,.211],[-1.001,.207],[-1.438,.192],[-1.724,.189],[-.716,.186],[-1.349,.175],[-.99,.175],[-.902,.168],[-1.182,.157],[-.948,.157],[-1.626,.15],[-.724,.15],[-1.537,.135],[-2.073,.132],[-.804,.128],[-1.903,.104],[-1.118,.096],[-1.118,.096],[-.849,.093],[-.984,.086],[-.752,.061],[-.814,.057],[-.826,.05],[-.849,.047],[-.876,.043],[-.957,.036],[-.769,0],
[.62,.971],[.666,.967],[.685,.969],[.702,.971],[.54,.957],[.798,.949],[.834,.945],[.736,.942],[.817,.914],[.511,.914],[.511,.932],[.468,.932],[.484,.92],[-.379,.967],[-.344,.964],[-.65,.957],[-.7,.96],[-.083,.971],[-.083,.971],[-.058,.967],[.131,.971],[.131,.971],[.125,.964],[.213,.967],[.288,.967],[.304,.964],[.304,.964],[.345,.96],[.44,.964],
[-.455,.956],[-.455,.956],[-.417,.952],[-.267,.953],[-.244,.956],[-.196,.953],[-.127,.956],[-.008,.96],[.023,.962],[.023,.962],[.023,.96],[.055,.956],[.169,.96],[.169,.96],
[-.625,.946],[-.574,.942],[-.536,.942],[-.486,.945],[-.448,.946],[-.448,.946],[-.448,.943],[-.373,.946],[-.322,.944],[-.322,.944],[-.253,.946],[-.19,.947],[-.096,.95],[-.045,.944],[.03,.948],[.03,.948],[.03,.945],[.087,.946],[.131,.944],[.181,.946],[.238,.948],[.282,.948],[.282,.948],[.282,.945],[.383,.952],[.415,.952],[.465,.952],
[-.663,.936],[-.694,.93],[-.694,.93],[-.625,.926],[-.625,.926],[-.556,.934],[-.556,.934],[-.556,.931],[-.486,.926],[-.486,.926],[-.486,.923],[-.482,.928],[-.436,.922],[-.436,.922],[-.436,.919],[-.44,.924],[-.486,.934],[-.322,.936],[-.322,.936],[-.322,.933],[-.326,.938],[-.329,.924],[-.329,.924],[-.329,.921],[-.265,.936],[-.265,.936],[-.247,.926],[-.19,.934],[-.108,.936],[-.108,.936],[-.108,.933],[-.112,.938],[-.146,.926],[-.058,.934],[.018,.938],[.018,.938],[.018,.935],[.081,.936],[.081,.936],[.018,.926],[.169,.937],[.226,.936],[.276,.936],
[-.7,.918],[-.7,.918],[-.7,.915],[-.637,.914],[-.637,.914],[-.637,.911],[-.587,.918],[-.587,.918],[-.536,.912],[-.536,.912],[-.473,.914],[-.473,.914],[-.473,.911],[-.398,.908],[-.398,.908],[-.398,.905],[-.335,.905],[-.335,.905],[-.266,.909],[-.266,.909],[-.203,.918],[-.146,.909],[-.146,.909],[-.146,.906],[-.083,.918],[-.033,.909],[.03,.911],[.03,.911],[.093,.913],[.093,.913],[.156,.918],[.175,.912],[.175,.912],[.175,.909],[.257,.914],[.295,.92],[.295,.92],[.358,.924],[.402,.922],[.402,.922],
[-.688,.893],[-.688,.893],[-.688,.89],[-.625,.897],[-.625,.897],[-.58,.897],[-.58,.897],[-.58,.894],[-.523,.901],[-.523,.901],[-.473,.903],[-.435,.899],[-.435,.899],[-.322,.889],[-.322,.889],[-.322,.886],[-.398,.889],[-.398,.889],[-.398,.886],[-.266,.883],[-.266,.883],[-.266,.88],[-.184,.879],[-.184,.879],[-.184,.876],[-.188,.881],[-.121,.875],[-.121,.875],[-.121,.872],[-.083,.887],[-.083,.887],[-.02,.889],[.056,.885],[.081,.901],[.056,.903],[.144,.881],[.175,.883],[.175,.883],[.175,.88],[.232,.899],[.263,.906],[.282,.891],[.288,.883],[.341,.903],[.368,.885],[.259,.877],
[-.7,.871],[-.7,.871],[-.7,.868],[-.704,.873],[-.637,.865],[-.637,.865],[-.637,.862],[-.524,.857],[-.524,.857],[-.524,.854],[-.528,.859],[-.52,.859],[-.587,.881],[-.587,.881],[-.587,.878],[-.448,.865],[-.448,.865],[-.448,.862],[-.452,.867],[-.385,.865],[-.385,.865],[-.385,.862],[-.322,.852],[-.322,.852],[-.278,.854],[-.278,.854],[-.215,.869],[-.165,.861],[-.165,.861],[-.127,.857],[-.127,.857],[-.077,.857],[-.008,.855],[-.014,.871],[-.014,.871],[.024,.861],[.062,.865],[.062,.865],[.106,.861],[.125,.863],[.175,.857],[.175,.857],[.206,.856],[.351,.845],[.181,.881],[-.052,.873],
[-.688,.834],[-.688,.834],[-.688,.831],[-.618,.834],[-.618,.834],[-.574,.832],[-.442,.829],[-.442,.829],[-.442,.826],[-.486,.824],[-.486,.824],[-.354,.848],[-.354,.848],[-.398,.838],[-.36,.84],[-.41,.822],[-.536,.816],[-.536,.816],[-.65,.82],[-.65,.82],[-.65,.817],[-.7,.816],[-.7,.816],[-.7,.813],[-.574,.804],[-.247,.848],[-.209,.845],[-.196,.826],[-.196,.826],[-.115,.838],[-.115,.838],[-.083,.838],[-.083,.838],[-.064,.838],[-.001,.838],[.053,.834],[-.117,.832],[-.07,.821],[-.18,.806],[.225,.831],[.26,.824],[-.045,.799],[.144,.792],[.377,.792],
[-.316,.821],[-.262,.821],[-.36,.818],[-.297,.81],[-.398,.81],[-.461,.81],[-.486,.799],[-.536,.814],[-.536,.814],[-.272,.796],[-.373,.796],[-.341,.786],[-.341,.786],[-.341,.783],[-.354,.779],[-.297,.788],[-.521,.788],[-.442,.785],[-.423,.777],[-.505,.774],[-.644,.783],[-.644,.783],[-.644,.78],[-.675,.797],[-.675,.797],[-.637,.797],[-.637,.797],[-.694,.771],[-.694,.771],[-.587,.771],[-.587,.771],[-.587,.768],[-.543,.767],[-.253,.774],[-.322,.763],[-.297,.763],[-.19,.763],[-.127,.771],[-.01,.771],
[-.675,.75],[-.639,.75],[-.612,.754],[-.559,.751],[-.559,.751],[-.512,.746],[-.455,.75],[-.455,.75],[-.325,.75],[-.665,.731],[-.576,.728],[-.536,.735],[-.492,.739],[-.435,.729],[-.435,.729],[-.435,.726],[-.253,.735],[.278,.739],[.332,.721],[-.01,.728],[-.01,.728],[-.681,.714],[-.681,.714],[-.625,.706],[-.625,.706],[-.549,.707],[-.539,.714],[-.656,.692],[-.52,.685],[-.505,.688],[-.451,.692],[-.244,.709],[-.244,.695],[-.199,.685],[-.127,.692],[.008,.707],[-.001,.682],[.251,.699],[.251,.692],
[-.656,.664],[-.62,.664],[-.42,.661],[-.338,.657],[-.304,.668],[-.118,.664],[-.099,.661],[.008,.661],[.027,.657],[-.7,.638],[-.521,.632],[-.467,.625],[-.413,.635],[-.297,.642],[-.297,.642],[-.291,.638],[-.244,.635],[-.108,.625],[.08,.628],[.647,.614],[.735,.617],[-.234,.617],[-.272,.611],[-.291,.603],[-.199,.611],[-.099,.603],[-.448,.607],[-.58,.602],[-.58,.602],[-.603,.592],[-.637,.607],[-.379,.593],[-.19,.589],[-.19,.589],[-.413,.582],[-.413,.582],[-.549,.582],[.351,.6],[-.7,.592],[-.681,.578],[-.681,.578],[-.662,.575],[-.631,.564],[-.685,.56],[-.539,.56],[-.499,.564],[-.499,.564],[-.499,.561],[-.486,.557],[-.281,.56],[.097,.568],[.062,.557],[.125,.557],[-.602,.547],[.396,.549],[.279,.542],[.295,.532],[.424,.535],[.116,.532],[.134,.521],[-.19,.535],[-.155,.525],[-.549,.528],[-.433,.521],[-.351,.514],[-.001,.514],[.045,.518],[-.637,.503],[-.593,.503],[-.451,.499],[-.467,.492],[-.36,.496],[-.262,.496],[-.244,.499],[-.162,.496],[-.099,.496],[-.675,.49],[.647,.496],[.15,.49],[.141,.481],[.26,.485],[-.577,.481],[-.539,.485],[-.524,.478],[-.524,.478],[-.524,.475],[-.486,.478],[-.486,.478],[-.398,.478],[-.19,.481],[-.045,.475],[-.325,.471],[-.234,.471],[.188,.471],[-.631,.465],[-.587,.462],[-.514,.465],[-.514,.465],[-.48,.467],[-.448,.471],[-.404,.462],[-.288,.465],[-.196,.465],[-.01,.462],
[.817,.457],[.494,.449],[.207,.442],[.068,.439],[.068,.439],[.068,.436],[.179,.432],[.188,.425],[.037,.432],[-.045,.428],[-.108,.446],[-.152,.436],[-.19,.449],[-.27,.439],[-.322,.431],[-.322,.431],[-.316,.428],[-.432,.446],[-.675,.436],[-.644,.425],[-.656,.421],[-.565,.425],[-.458,.421],[-.524,.414],[-.565,.407],[-.395,.407],[.368,.421],[.024,.417],[.024,.417],[.018,.41],[-.089,.417],[-.083,.41],[-.18,.414],[-.225,.404],[.053,.404],[.152,.407],[.27,.404],[-.492,.396],[-.477,.392],[-.432,.392],[-.423,.385],[-.584,.392],[-.584,.381],[-.685,.389],[-.118,.389],[.045,.385],[.018,.382],[-.514,.378],[-.486,.374],[-.215,.371],[.368,.371],[-.69,.364],[-.458,.364],[-.406,.36],[-.253,.364],[-.234,.357],[-.19,.36],[.008,.364],[.297,.364],[-.521,.35],[-.343,.347],[-.083,.353],[.045,.35],[.026,.343],[-.055,.336],[.484,.35],[.484,.328],[.089,.328],[.135,.332],[.207,.332],[-.432,.321],[-.335,.317],[-.593,.314],[-.565,.303],[-.54,.307],[-.144,.314],[-.144,.314],[-.144,.311],[-.144,.3],[-.467,.3],[-.278,.296],[-.297,.293],[-.486,.285],[-.467,.274],[-.335,.285],[.081,.282],[-.666,.261],[-.574,.257],[-.574,.257],[-.574,.254],[-.467,.228],[-.656,.221],[-.413,.221],[-.27,.218],[-.001,.221],[-.118,.2],[-.559,.171],[-.568,.164],[-.615,.157],[-.631,.154],[-.297,.154],[-.495,.139],[-.54,.125],[-.65,.114],[-.343,.118],[-.379,.105],[-.379,.105],[-.379,.102],[-.514,.079],[.116,.043],[.018,.033],[-.288,.011]
];

// same for the right panel: the solid band along the black line
const airbusDense = [
[-.98,.862],[-.95,.882],[-.94,.852],[-.91,.889],[-.89,.858],[-.88,.874],[-.85,.89],[-.84,.86],[-.82,.882],[-.8,.867],[-.79,.904],[-.77,.882],[-.75,.862],[-.73,.892],[-.72,.905],[-.71,.862],[-.69,.88],[-.67,.905],[-.66,.884],[-.65,.872],[-.63,.885],[-.61,.907],[-.6,.874],[-.59,.888],[-.57,.91],[-.56,.88],[-.55,.869],[-.53,.892],[-.52,.912],[-.51,.875],[-.49,.887],[-.48,.905],[-.47,.875],[-.46,.92],[-.45,.885],[-.43,.908],[-.42,.878],[-.41,.894],[-.4,.918],[-.38,.875],[-.37,.9],[-.36,.928],[-.35,.886],[-.34,.912],[-.33,.878],[-.31,.9],[-.3,.925],[-.29,.89],[-.28,.912],[-.26,.877],[-.25,.93],[-.24,.895],[-.23,.912],[-.22,.886],[-.21,.925],[-.2,.898],[-.18,.912],[-.17,.89],[-.16,.933],[-.15,.9],[-.14,.882],[-.13,.918],[-.11,.9],[-.1,.928],[-.09,.896],[-.07,.916],[-.06,.882],[-.05,.925],[-.04,.9],[-.03,.876],[-.02,.918],[0,.895],[.01,.935],[.02,.905],[.03,.928],[.04,.89],[.05,.945],[.06,.912],[.08,.93],[.09,.9],[.1,.94],[.11,.92],[.13,.905],[.14,.935],[.16,.91],[.18,.942],[.2,.92],[.21,.94],[.23,.93],[.25,.945],
[-1.05,.83],[-1.03,.812],[-1,.825],[-.98,.845],[-.96,.815],[-.94,.835],[-.92,.81],[-.9,.825],[-.87,.81],[-.86,.826],[-.84,.84],[-.81,.82],[-.8,.84],[-.78,.825],[-.76,.84],[-.74,.815],[-.73,.835],[-.7,.848],[-.68,.82],[-.67,.848],[-.64,.835],[-.62,.852],[-.6,.828],[-.59,.845],[-.56,.84],[-.54,.828],[-.52,.842],[-.5,.85],[-.48,.835],[-.47,.85],[-.45,.84],[-.42,.845],[-.4,.85],[-.38,.825],[-.33,.84],[-.3,.832],[-.27,.84],[-.23,.835],[-.15,.85],[-.1,.848],
[-.92,.795],[-.87,.79],[-.85,.8],[-.83,.775],[-.8,.79],[-.77,.795],[-.75,.79],[-.73,.8],[-.71,.785],[-.69,.8],[-.66,.81],[-.66,.78],[-.63,.81],[-.6,.79],[-.61,.82],[-.57,.785],[-.55,.81],[-.52,.8],[-.5,.81],[-.46,.79],[-.42,.8],[-.42,.815],[-.33,.81],[-.28,.805],
[-1.12,.87],[-1.09,.89],[-1.08,.855],[-1.05,.88],[-1.04,.905],[-1.02,.86],[-1,.89],[-.99,.875],[-.97,.895],[-.94,.91],[-.92,.925],[-.9,.89],[-.88,.91],[-.86,.93],[-.84,.92],[-.82,.905],[-.8,.93],[-.78,.91],[-.75,.925],[-.74,.94],[-.71,.93],[-.68,.94],[-.65,.93],[-.62,.938],[-.58,.93],[-.54,.945],[-.5,.945],[-.41,.938],[-.38,.932],[-.28,.942],[-.23,.935],[-.17,.94],[-.12,.945],[-.05,.95],
[-1.1,.84],[-1.18,.83],[-1.16,.815],[-1.13,.805],[-1.08,.825],[-1.07,.81],[-1.25,.84],[-1.22,.83],[-1.19,.86],[-1.17,.875],[-1.14,.86],[-1.1,.83],[-1.3,.85],[-1.27,.86],
[-.97,.868],[-.93,.872],[-.9,.848],[-.87,.858],[-.86,.878],[-.83,.866],[-.81,.886],[-.79,.858],[-.77,.872],[-.76,.888],[-.74,.868],[-.72,.882],[-.7,.895],[-.68,.862],[-.67,.878],[-.65,.892],[-.64,.865],[-.62,.878],[-.6,.895],[-.58,.868],[-.57,.882],[-.55,.9],[-.54,.872],[-.52,.885],[-.5,.902],[-.49,.868],[-.47,.89],[-.46,.908],[-.44,.872],[-.43,.888],[-.41,.905],[-.4,.87],[-.38,.895],[-.37,.915],[-.35,.876],[-.34,.898],[-.33,.92],[-.31,.882],[-.3,.905],[-.28,.925],[-.27,.888],[-.26,.908],[-.24,.925],[-.23,.885],[-.22,.905],[-.2,.88],[-.19,.92],[-.17,.905],[-.16,.88],[-.14,.925],[-.13,.895],[-.11,.915],[-.1,.885],[-.08,.925],[-.07,.905],[-.05,.885],[-.04,.935],[-.03,.91],[-.01,.93],[0,.885],[.02,.925],[.03,.9],[.05,.92],[.07,.94],[.08,.905],[.1,.925],[.12,.945],[.13,.915],[.15,.94],
[-.99,.848],[-.95,.84],[-.93,.855],[-.89,.842],[-.87,.85],[-.85,.835],[-.83,.85],[-.79,.85],[-.77,.832],[-.75,.85],[-.71,.838],[-.69,.855],[-.66,.842],[-.63,.858],[-.61,.842],[-.58,.855],[-.55,.85],[-.53,.858],[-.51,.84],[-.49,.858],[-.46,.848],[-.44,.855],[-.41,.86],[-.39,.845],[-.36,.855],[-.34,.84],[-.31,.86],[-.29,.87],[-.25,.862],[-.22,.87],[-.19,.86],[-.14,.865],[-.09,.87],
[-.68,.91],[-.66,.92],[-.64,.9],[-.62,.925],[-.6,.91],[-.58,.92],[-.56,.9],[-.54,.925],[-.52,.93],[-.5,.91],[-.47,.925],[-.45,.935],[-.43,.92],[-.41,.93],[-.39,.915],[-.37,.935],[-.35,.92],[-.33,.94],[-.31,.93],[-.28,.935],[-.26,.92],[-.24,.94],[-.21,.935],[-.19,.91],[-.16,.94],[-.14,.93],[-.11,.93],[-.09,.94],[-.07,.93],[-.04,.945],[-.02,.93],[.01,.95],[.03,.94],[.06,.95],[.09,.945],
[-.85,.855],[-.83,.895],[-.81,.855],[-.78,.895],[-.76,.905],[-.74,.905],[-.7,.905],[-.68,.875],[-.66,.87],[-.63,.87],[-.62,.895],[-.59,.87],[-.56,.895],[-.55,.885],[-.53,.865],[-.51,.895],[-.48,.88],[-.46,.87],[-.44,.9],[-.42,.865],[-.39,.88],[-.37,.875],[-.36,.89],[-.33,.895],[-.32,.872],[-.3,.88],[-.28,.87],[-.25,.875],[-.24,.905],[-.22,.89]
];

const toXY = (rows) => rows.map(([lg, iou]) => ({ x: 10 ** lg, y: iou }));

// the log scale can only give one tick length, so the short ones go here
const minorTickMarks = {
  id: "minorTickMarks",
  afterDraw(chart) {
    const ctx = chart.ctx;
    const xScale = chart.scales.x;
    ctx.save();
    ctx.strokeStyle = "#000";
    ctx.lineWidth = 2;
    xMinorTicks.forEach((v) => {
      const px = Math.round(xScale.getPixelForValue(v)) + 0.5;
      ctx.beginPath();
      ctx.moveTo(px, xScale.top);
      ctx.lineTo(px, xScale.top + 10);
      ctx.stroke();
    });
    ctx.restore();
  },
};

function drawPanel(id, title, points, line) {
  const ctx = document.getElementById(id).getContext("2d");
  return new Chart(ctx, {
    type: "scatter",
    data: {
      datasets: [
        {
          data: toXY(line),
          showLine: true,
          borderColor: "#000",
          borderWidth: 4.8,
          borderJoinStyle: "round",
          pointRadius: 0,
          tension: 0,
        },
        {
          data: toXY(points),
          backgroundColor: "rgba(31,119,180,0.24)",
          borderColor: "rgba(31,119,180,0.26)",
          borderWidth: 1.6,
          pointRadius: 4.4,
        },
      ],
    },
    options: {
      responsive: false,
      animation: false,
      layout: { padding: { right: 34 } },
      plugins: {
        legend: { display: false },
        tooltip: { enabled: false },
        title: {
          display: true,
          text: title,
          fullSize: false,
          color: "#000",
          font: { family: "Liberation Sans", size: 64.5, weight: "normal", lineHeight: 1 },
          padding: { top: 27, bottom: 63.5 },
        },
      },
      scales: {
        x: {
          type: "logarithmic",
          min: xRange[0],
          max: xRange[1],
          afterFit: (scale) => { scale.height = 188; },
          afterBuildTicks: (scale) => { scale.ticks = xTickValues.map((v) => ({ value: v })); },
          border: { display: true, color: "#000", width: 3 },
          grid: { drawOnChartArea: false, tickLength: 15, tickWidth: 3, tickColor: "#000" },
          ticks: {
            autoSkip: false,
            maxRotation: 0,
            padding: 9,
            color: "#000",
            font: { family: "Liberation Sans", size: 50 },
            callback: (v) => xTickLabels[xTickValues.indexOf(v)],
          },
          title: {
            display: true,
            text: xLabel,
            color: "#000",
            font: { family: "Liberation Sans", size: 56, lineHeight: 1 },
            padding: { top: 0, bottom: 32 },
          },
        },
        y: {
          min: yRange[0],
          max: yRange[1],
          afterFit: (scale) => { scale.width = 210.5; },
          afterBuildTicks: (scale) => { scale.ticks = yTickValues.map((v) => ({ value: v })); },
          border: { display: true, color: "#000", width: 3 },
          grid: { drawOnChartArea: false, tickLength: 15, tickWidth: 3, tickColor: "#000" },
          ticks: {
            autoSkip: false,
            padding: 10,
            color: "#000",
            font: { family: "Liberation Sans", size: 50 },
            callback: (v) => v.toFixed(1),
          },
          title: {
            display: true,
            text: yLabel,
            color: "#000",
            font: { family: "Liberation Sans", size: 56, lineHeight: 1 },
            padding: { top: 30, bottom: 0 },
          },
        },
      },
    },
    plugins: [minorTickMarks],
  });
}

drawPanel("planet", titles[0], planetPoints.concat(planetDense), planetLine);
drawPanel("airbus", titles[1], airbusPoints.concat(airbusDense), airbusLine);
</script>
</body>
</html>
